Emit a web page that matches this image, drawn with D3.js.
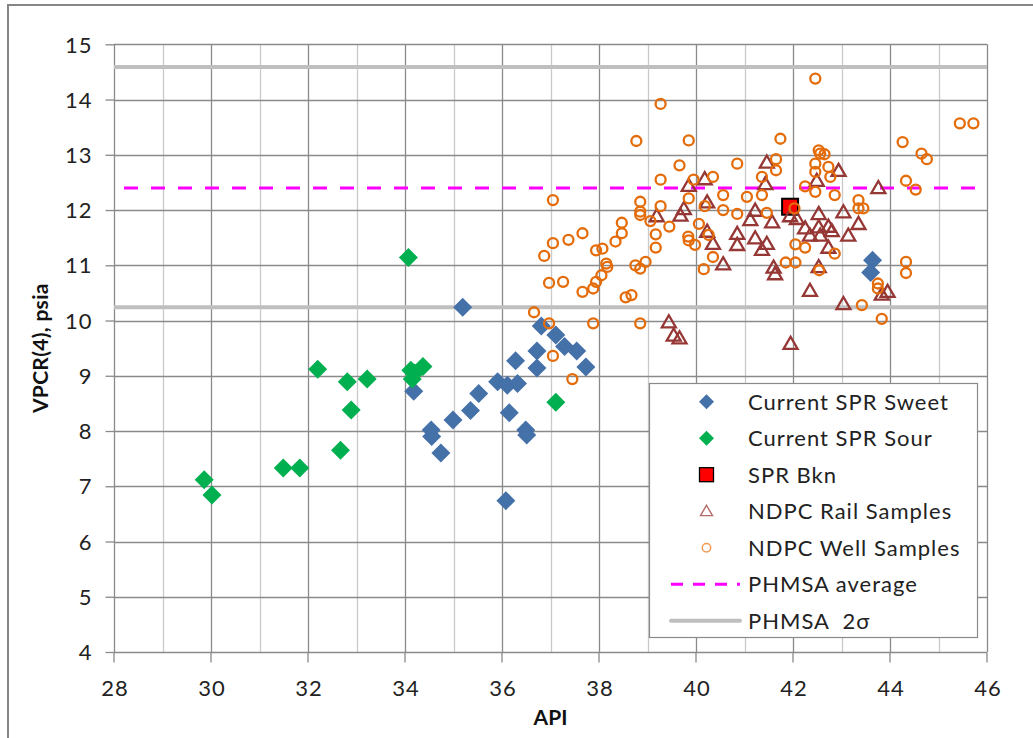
<!DOCTYPE html>
<html>
<head>
<meta charset="utf-8">
<script src="https://cdn.jsdelivr.net/npm/d3@7/dist/d3.min.js"></script>
<style>
  html, body { margin: 0; padding: 0; background: #fff; }
  svg { display: block; font-family: Lato, "Open Sans", "Liberation Sans", sans-serif; }
</style>
</head>
<body>
<svg id="chart" width="1033" height="738"></svg>
<script>
// Axis ranges and tick values
const xDomain = [28, 46];
const yDomain = [4, 15];
const xTicks = [28, 30, 32, 34, 36, 38, 40, 42, 44, 46];
const xMinorTicks = [29, 31, 33, 35, 37, 39, 41, 43, 45];
const yTicks = [4, 5, 6, 7, 8, 9, 10, 11, 12, 13, 14, 15];

// Reference levels (psia)
const phmsaAverage = 12.40;
const phmsaTwoSigma = [14.59, 10.24];

// Current SPR Sweet: [API, VPCR(4)]
const sprSweet = [
  [35.19, 10.24], [34.18, 8.72], [34.54, 8.02], [34.55, 7.90], [34.74, 7.60],
  [34.99, 8.20], [35.35, 8.37], [35.52, 8.68], [35.91, 8.89], [36.11, 8.83],
  [36.32, 8.86], [36.15, 8.33], [36.49, 8.02], [36.51, 7.93], [36.08, 6.74],
  [36.28, 9.27], [36.72, 9.45], [36.72, 9.14], [36.81, 9.90], [37.11, 9.74],
  [37.29, 9.53], [37.54, 9.45], [37.73, 9.16], [43.64, 11.09], [43.60, 10.87]
];

// Current SPR Sour
const sprSour = [
  [34.07, 11.14], [32.20, 9.12], [32.81, 8.89], [33.22, 8.94], [32.89, 8.38],
  [32.67, 7.65], [31.49, 7.33], [31.83, 7.33], [29.86, 7.12], [30.02, 6.84],
  [34.12, 9.10], [34.37, 9.17], [34.15, 8.94], [34.20, 9.05], [37.11, 8.52]
];

// SPR Bkn
const sprBkn = [[41.94, 12.06]];

// NDPC Rail Samples
const ndpcRail = [
  [39.85, 12.42], [39.75, 12.00], [39.68, 11.88], [39.19, 11.87], [39.44, 9.95],
  [39.54, 9.71], [39.66, 9.66], [40.18, 12.54], [40.23, 12.12], [40.23, 11.59],
  [40.35, 11.37], [40.56, 11.00], [40.85, 11.55], [40.85, 11.35], [41.22, 11.97],
  [41.12, 11.80], [41.22, 11.47], [41.46, 11.37], [41.36, 11.26], [41.57, 11.76],
  [41.46, 12.84], [41.43, 12.45], [41.60, 10.94], [41.63, 10.82], [41.95, 9.56],
  [41.94, 11.87], [42.08, 11.82], [42.53, 11.91], [42.94, 12.69], [42.49, 12.51],
  [43.04, 11.94], [43.35, 11.73], [42.25, 11.65], [42.53, 11.67], [42.73, 11.68],
  [42.80, 11.60], [42.35, 11.52], [42.56, 11.52], [43.14, 11.52], [42.73, 11.30],
  [42.53, 10.95], [42.35, 10.52], [43.04, 10.28], [43.76, 12.38], [43.95, 10.50],
  [43.83, 10.45]
];

// NDPC Well Samples
const ndpcWell = [
  [39.27, 13.92], [38.77, 13.25], [39.85, 13.26], [39.66, 12.81], [39.27, 12.55],
  [39.95, 12.55], [39.85, 12.21], [37.05, 12.18], [38.85, 12.15], [39.27, 12.07],
  [38.85, 11.97], [38.85, 11.91], [39.06, 11.80], [39.45, 11.70], [40.06, 11.75],
  [38.47, 11.77], [38.47, 11.58], [39.17, 11.56], [39.17, 11.32], [38.34, 11.43],
  [37.66, 11.58], [37.37, 11.46], [37.05, 11.40], [36.87, 11.17], [37.94, 11.27],
  [38.07, 11.30], [38.15, 11.03], [38.17, 10.97], [38.05, 10.82], [37.94, 10.70],
  [37.88, 10.58], [37.66, 10.52], [36.97, 10.68], [37.26, 10.70], [38.75, 11.00],
  [38.85, 10.94], [38.96, 11.06], [38.55, 10.42], [38.67, 10.46], [36.66, 10.15],
  [36.97, 9.95], [37.88, 9.95], [38.85, 9.95], [37.05, 9.36], [37.45, 8.94],
  [42.46, 14.38], [41.74, 13.29], [40.85, 12.84], [41.65, 12.92], [41.65, 12.72],
  [42.53, 13.08], [42.56, 13.02], [42.65, 13.01], [42.46, 12.84], [42.73, 12.78],
  [42.77, 12.60], [42.46, 12.69], [41.36, 12.60], [40.35, 12.60], [42.25, 12.43],
  [42.46, 12.33], [42.86, 12.27], [40.56, 12.27], [41.05, 12.24], [41.36, 12.27],
  [40.18, 12.07], [40.56, 12.00], [40.85, 11.93], [41.46, 11.95], [42.03, 12.03],
  [43.35, 12.18], [43.35, 12.03], [43.45, 12.03], [40.26, 11.55], [39.98, 11.37],
  [39.84, 11.52], [39.85, 11.45], [40.35, 11.15], [40.16, 10.93], [42.05, 11.38],
  [42.25, 11.32], [41.85, 11.05], [42.05, 11.05], [42.86, 11.21], [42.54, 10.91],
  [43.42, 10.28], [45.44, 13.57], [45.72, 13.57], [44.26, 13.23], [44.65, 13.02],
  [44.76, 12.92], [44.33, 12.53], [44.53, 12.37], [44.33, 11.06], [44.33, 10.86],
  [43.75, 10.67], [43.75, 10.58], [43.83, 10.03]
];

const legendLabels = [
  "Current SPR Sweet", "Current SPR Sour", "SPR Bkn", "NDPC Rail Samples",
  "NDPC Well Samples", "PHMSA average", "PHMSA  2σ"
];

// ---- layout ----
const svg = d3.select("#chart");
const plot = { left: 114, right: 987, top: 44.3, bottom: 652 };

const x = d3.scaleLinear().domain(xDomain).range([plot.left, plot.right]);
const y = d3.scaleLinear().domain(yDomain).range([plot.bottom, plot.top]);

const colors = {
  sweet: "#4571A9",
  sour: "#00B050",
  bkn: "#FF0000",
  rail: "#953735",
  well: "#E46C0A",
  avg: "#FF00FF",
  sigma: "#BFBFBF",
  gridMajor: "#8A8A8A",
  gridMinor: "#CACACA",
  frame: "#868686"
};

// outer chart frame
svg.append("rect")
  .attr("x", 8).attr("y", 5).attr("width", 1040).attr("height", 760)
  .attr("fill", "#fff").attr("stroke", colors.frame).attr("stroke-width", 2);

// gridlines
const grid = svg.append("g");
grid.selectAll("line.minor").data(xMinorTicks).join("line")
  .attr("x1", d => Math.round(x(d)) + 0.5).attr("x2", d => Math.round(x(d)) + 0.5)
  .attr("y1", plot.top).attr("y2", plot.bottom)
  .attr("stroke", colors.gridMinor).attr("stroke-width", 1.3);
grid.selectAll("line.vx").data(xTicks).join("line")
  .attr("x1", d => Math.round(x(d)) + 0.5).attr("x2", d => Math.round(x(d)) + 0.5)
  .attr("y1", plot.top).attr("y2", plot.bottom)
  .attr("stroke", colors.gridMajor).attr("stroke-width", 1.3);
grid.selectAll("line.hy").data(yTicks).join("line")
  .attr("x1", plot.left).attr("x2", plot.right)
  .attr("y1", d => Math.round(y(d)) + 0.5).attr("y2", d => Math.round(y(d)) + 0.5)
  .attr("stroke", colors.gridMajor).attr("stroke-width", 1.3);

// axes (ticks outside, labels)
const xAxis = svg.append("g")
  .attr("transform", `translate(0,${Math.round(y(4)) + 0.5})`)
  .call(d3.axisBottom(x).tickValues(xTicks).tickSize(10).tickPadding(18).tickFormat(d3.format("d")));
const yAxis = svg.append("g")
  .attr("transform", `translate(${Math.round(x(28)) + 0.5},0)`)
  .call(d3.axisLeft(y).tickValues(yTicks).tickSize(9).tickPadding(13).tickFormat(d3.format("d")));
[xAxis, yAxis].forEach(a => {
  a.select(".domain").remove();
  a.selectAll(".tick line").attr("stroke", colors.gridMajor).attr("stroke-width", 1.3);
  a.selectAll(".tick text").attr("fill", "#222").style("font-size", "22px")
    .style("letter-spacing", "1px")
    .style("font-family", "Lato, 'Open Sans', sans-serif");
});
xAxis.selectAll(".tick line").attr("transform", "translate(-0.5,0)");
xAxis.selectAll(".tick text").attr("dx", "0.5px");
yAxis.selectAll(".tick text").attr("dy", "0.35em");

// axis titles
svg.append("text")
  .attr("x", (plot.left + plot.right) / 2).attr("y", 725)
  .attr("text-anchor", "middle").style("font-size", "21px").style("font-weight", "bold")
  .attr("fill", "#111").text("API");
svg.append("text")
  .attr("transform", `translate(48,${(plot.top + plot.bottom) / 2}) rotate(-90)`)
  .attr("text-anchor", "middle").style("font-size", "21px").style("font-weight", "bold")
  .style("letter-spacing", "0.3px")
  .attr("fill", "#111").text("VPCR(4), psia");

// reference lines
const refs = svg.append("g");
refs.selectAll("line.sigma").data(phmsaTwoSigma).join("line")
  .attr("x1", plot.left).attr("x2", plot.right)
  .attr("y1", d => y(d)).attr("y2", d => y(d))
  .attr("stroke", colors.sigma).attr("stroke-width", 4);
refs.append("line")
  .attr("x1", plot.left).attr("x2", plot.right)
  .attr("y1", y(phmsaAverage)).attr("y2", y(phmsaAverage))
  .attr("stroke", colors.avg).attr("stroke-width", 3)
  .attr("stroke-dasharray", "14,13").attr("stroke-dashoffset", 17);

// marker shapes
const diamond = r => `M0,${-r}L${r},0L0,${r}L${-r},0Z`;
const triangle = s => {
  const h = s * Math.sqrt(3) / 2;
  return `M0,${-h * 2 / 3}L${s / 2},${h / 3}L${-s / 2},${h / 3}Z`;
};

const marks = svg.append("g");
marks.selectAll("path.sweet").data(sprSweet).join("path")
  .attr("d", diamond(9.5))
  .attr("transform", d => `translate(${x(d[0])},${y(d[1])})`)
  .attr("fill", colors.sweet);
marks.selectAll("path.sour").data(sprSour).join("path")
  .attr("d", diamond(9.5))
  .attr("transform", d => `translate(${x(d[0])},${y(d[1])})`)
  .attr("fill", colors.sour);
marks.selectAll("rect.bkn").data(sprBkn).join("rect")
  .attr("x", d => x(d[0]) - 8).attr("y", d => y(d[1]) - 8)
  .attr("width", 16).attr("height", 16)
  .attr("fill", colors.bkn).attr("stroke", "#000").attr("stroke-width", 2);
marks.selectAll("path.rail").data(ndpcRail).join("path")
  .attr("d", triangle(14))
  .attr("transform", d => `translate(${x(d[0])},${y(d[1])})`)
  .attr("fill", "none").attr("stroke", colors.rail).attr("stroke-width", 2.3)
  .attr("stroke-linejoin", "miter");
marks.selectAll("circle.well").data(ndpcWell).join("circle")
  .attr("cx", d => x(d[0])).attr("cy", d => y(d[1])).attr("r", 5)
  .attr("fill", "none").attr("stroke", colors.well).attr("stroke-width", 2.3);

// legend
const lg = svg.append("g");
lg.append("rect")
  .attr("x", 649.5).attr("y", 383.5).attr("width", 328).attr("height", 254)
  .attr("fill", "#fff").attr("stroke", "#8A8A8A").attr("stroke-width", 1.2);
const rowY = i => 401.7 + i * 36.5;
const mx = 706.5;
lg.append("path").attr("d", diamond(7.5)).attr("transform", `translate(${mx},${rowY(0)})`).attr("fill", colors.sweet);
lg.append("path").attr("d", diamond(7.5)).attr("transform", `translate(${mx},${rowY(1)})`).attr("fill", colors.sour);
lg.append("rect").attr("x", mx - 7).attr("y", rowY(2) - 7).attr("width", 14).attr("height", 14)
  .attr("fill", colors.bkn).attr("stroke", "#000").attr("stroke-width", 1.3);
lg.append("path").attr("d", triangle(12)).attr("transform", `translate(${mx},${rowY(3) + 1})`)
  .attr("fill", "none").attr("stroke", "#B36B69").attr("stroke-width", 1.4);
lg.append("circle").attr("cx", mx).attr("cy", rowY(4)).attr("r", 4.2)
  .attr("fill", "none").attr("stroke", "#EE9B55").attr("stroke-width", 1.5);
lg.append("line").attr("x1", 671).attr("x2", 740).attr("y1", rowY(5)).attr("y2", rowY(5))
  .attr("stroke", colors.avg).attr("stroke-width", 3).attr("stroke-dasharray", "12,10");
lg.append("line").attr("x1", 671).attr("x2", 740).attr("y1", rowY(6)).attr("y2", rowY(6))
  .attr("stroke", colors.sigma).attr("stroke-width", 4).attr("stroke-linecap", "round");
lg.selectAll("text").data(legendLabels).join("text")
  .attr("x", 748).attr("y", (d, i) => rowY(i)).attr("dy", "0.36em")
  .style("font-size", "22px").style("letter-spacing", "1px").style("white-space", "pre")
  .attr("fill", "#222").text(d => d);
</script>
</body>
</html>
